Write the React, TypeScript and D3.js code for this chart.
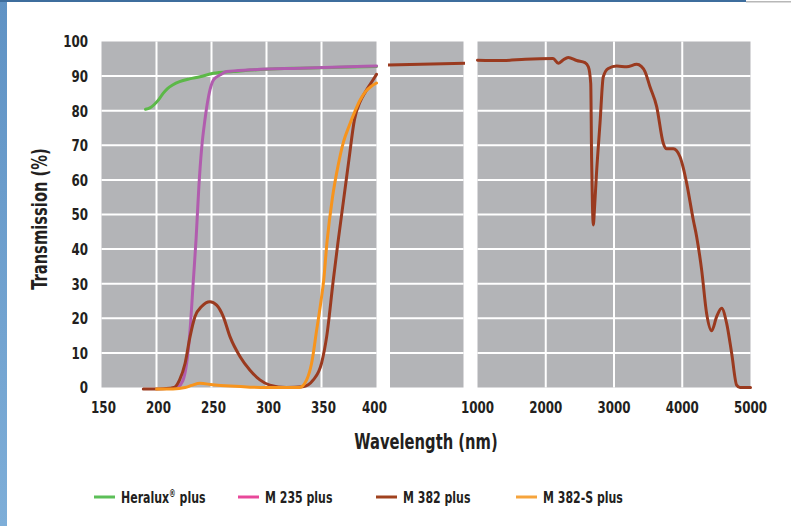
import React from "react";
import * as d3 from "d3";

type P = [number, number];

const yTicks = [0, 10, 20, 30, 40, 50, 60, 70, 80, 90, 100];
const leftTicks = [150, 200, 250, 300, 350, 400];
const rightTicks = [1000, 2000, 3000, 4000, 5000];

const heralux: P[] = [
  [190, 80.4], [194, 80.8], [198, 81.8], [202, 83.2], [206, 85], [210, 86.4], [215, 87.5], [221, 88.4],
  [230, 89.2], [239.5, 89.8], [251.6, 90.8], [270, 91.3], [300, 92], [330, 92.3], [360, 92.5], [400, 92.8],
];

const m235: P[] = [
  [219, 0], [224, 2], [227.4, 7], [230.5, 16.6], [233.5, 31], [236, 43], [238.5, 58], [241, 69],
  [244, 77.3], [248.6, 86], [252, 89], [257.7, 90.3], [263.8, 91.3], [285, 91.8], [330, 92.3], [400, 92.9],
];

const m382Left: P[] = [
  [188, -0.4], [200, -0.4], [212, -0.2], [216, 0], [221, 2.2], [226, 7], [230.5, 14.7], [235, 20.5],
  [241, 23.4], [248.6, 24.8], [254.7, 23.8], [260.7, 20.5], [266.8, 14.7], [276, 8.9], [285, 5],
  [294, 2.2], [303, 0.7], [318, 0], [333, 0.2], [342.5, 2.2], [350, 7], [354.7, 14.7], [360.7, 31],
  [365, 42], [370, 54], [375, 66], [380, 77.5], [385, 82.5], [390, 85.5], [395, 88], [400, 90.5],
];

const m382Mid: P[] = [[400, 93.2], [1000, 93.7]];

const m382Right: P[] = [
  [1000, 94.6], [1378, 94.5], [1700, 94.9], [2107, 95.1], [2184, 93.7], [2250, 94.6], [2330, 95.4],
  [2453, 94.5], [2575, 93.9], [2624, 92.7], [2659, 87.9], [2672, 66], [2685, 52], [2697, 47],
  [2715, 52], [2744, 62], [2795, 76.4], [2843, 89.8], [2916, 92.2], [3040, 92.9], [3186, 92.7],
  [3333, 93.4], [3400, 92.8], [3454, 91.3], [3527, 86.9], [3625, 81.2], [3722, 70.6], [3771, 69],
  [3869, 69], [3967, 66.7], [4015, 63.5], [4065, 59], [4162, 48.4], [4211, 43.6], [4284, 34],
  [4357, 21.4], [4431, 16.4], [4504, 20.5], [4577, 22.9], [4650, 18.6], [4724, 9.9], [4797, 0.7],
  [4846, 0], [5000, 0],
];

const m382s: P[] = [
  [200, -0.4], [215, -0.4], [226, 0], [232, 0.6], [239.5, 1.2], [251, 0.8], [267, 0.4], [285, 0.1],
  [300, 0], [330, 0], [336.5, 2.2], [341, 7], [345.6, 16.6], [350, 26], [352, 31], [355, 42],
  [360, 55], [365, 64], [370, 71], [375, 75.5], [380, 79.5], [385, 83], [390, 85.5], [395, 87], [400, 88],
];

const legendItems = [
  { label: "Heralux", sup: "®", rest: " plus", color: "#5cbf58" },
  { label: "M 235 plus", sup: "", rest: "", color: "#e8489a" },
  { label: "M 382 plus", sup: "", rest: "", color: "#a0421f" },
  { label: "M 382-S plus", sup: "", rest: "", color: "#f6a43c" },
];

const FONT = "'DejaVu Sans Condensed', 'DejaVu Sans', sans-serif";
const INK = "#231f20";

function T(props: {
  x: number; y: number; sx: number; size: number; anchor?: string; rotate?: number; children: React.ReactNode; dy?: string;
}) {
  const { x, y, sx, size, anchor = "start", rotate = 0, children, dy } = props;
  return (
    <g transform={`translate(${x},${y}) rotate(${rotate}) scale(${sx},1)`}>
      <text x={0} y={0} dy={dy} textAnchor={anchor} fontSize={size} fontWeight="bold" fill={INK}>
        {children}
      </text>
    </g>
  );
}

export default function App() {
  const W = 791, H = 526;
  const y = d3.scaleLinear().domain([0, 100]).range([387.5, 41.5]);
  const xL = d3.scaleLinear().domain([150, 400]).range([101.5, 376.5]);
  const xM = d3.scaleLinear().domain([400, 1000]).range([388, 465]);
  const xR = d3.scaleLinear().domain([1000, 5000]).range([477.5, 750.5]);

  const mk = (xs: d3.ScaleLinear<number, number>) =>
    d3.line<P>().x(d => xs(d[0])).y(d => y(d[1])).curve(d3.curveMonotoneX);

  const lineL = mk(xL), lineM = mk(xM), lineR = mk(xR);

  const panels = [
    { x0: 101.5, x1: 376.5, vticks: [200, 250, 300, 350].map(v => xL(v)) },
    { x0: 390, x1: 463.5, vticks: [] as number[] },
    { x0: 477.5, x1: 750.5, vticks: [2000, 3000, 4000].map(v => xR(v)) },
  ];

  const legendX = [94, 238, 376, 516];

  return (
    <svg width={W} height={H} style={{ position: "absolute", left: 0, top: 0, background: "#fff" }} fontFamily={FONT}>
      <defs>
        <linearGradient id="strip" x1="0" y1="0" x2="0" y2="1">
          <stop offset="0" stopColor="#5f92c4" />
          <stop offset="1" stopColor="#7eaed8" />
        </linearGradient>
      </defs>
      <rect x={0} y={0} width={W} height={H} fill="#fff" />
      <rect x={0} y={0} width={7} height={H} fill="url(#strip)" />
      <rect x={0} y={0} width={746} height={2} fill="#3d6d9d" />
      <rect x={746} y={1} width={45} height={1.5} fill="#b8b8b8" />

      {panels.map((p, i) => (
        <g key={i}>
          <rect x={p.x0} y={y(100)} width={p.x1 - p.x0} height={y(0) - y(100)} fill="#b3b4b7" />
          {yTicks.filter(t => t > 0 && t < 100).map(t => (
            <line key={t} x1={p.x0} x2={p.x1} y1={y(t)} y2={y(t)} stroke="#fff" strokeWidth={2} />
          ))}
          {p.vticks.map((vx, j) => (
            <line key={j} x1={vx} x2={vx} y1={y(100)} y2={y(0)} stroke="#fff" strokeWidth={2} />
          ))}
        </g>
      ))}

      <path d={lineL(heralux) || ""} fill="none" stroke="#5cb848" strokeWidth={3} strokeLinecap="round" />
      <path d={lineL(m235) || ""} fill="none" stroke="#b15cae" strokeWidth={3} strokeLinecap="round" />
      <path d={lineL(m382Left) || ""} fill="none" stroke="#9a3a1f" strokeWidth={3} strokeLinecap="round" />
      <path d={lineL(m382s) || ""} fill="none" stroke="#f7941d" strokeWidth={3} strokeLinecap="round" />
      <path d={lineM(m382Mid) || ""} fill="none" stroke="#9a3a1f" strokeWidth={3} />
      <path d={lineR(m382Right) || ""} fill="none" stroke="#9a3a1f" strokeWidth={3} strokeLinecap="round" />

      {yTicks.map(t => (
        <T key={t} x={88} y={y(t)} dy="0.36em" anchor="end" size={16.5} sx={0.8}>{t}</T>
      ))}
      {leftTicks.map(t => (
        <T key={t} x={xL(t) + (t === 400 ? -2 : 2)} y={413} anchor="middle" size={16.5} sx={0.8}>{t}</T>
      ))}
      {rightTicks.map(t => (
        <T key={t} x={xR(t)} y={413} anchor="middle" size={16.5} sx={0.8}>{t}</T>
      ))}

      <T x={47} y={219} rotate={-90} anchor="middle" size={21} sx={0.78}>Transmission (%)</T>
      <T x={426} y={449} anchor="middle" size={21} sx={0.78}>Wavelength (nm)</T>

      {legendItems.map((it, i) => (
        <g key={it.label}>
          <line x1={legendX[i]} x2={legendX[i] + 21} y1={497} y2={497} stroke={it.color} strokeWidth={3} />
          <T x={legendX[i] + 27} y={497} dy="0.36em" size={16.5} sx={0.74}>
            {it.label}
            {it.sup ? <tspan fontSize={10} dy="-0.6em">{it.sup}</tspan> : null}
            {it.rest ? <tspan dy="0.36em">{it.rest}</tspan> : null}
          </T>
        </g>
      ))}
    </svg>
  );
}
